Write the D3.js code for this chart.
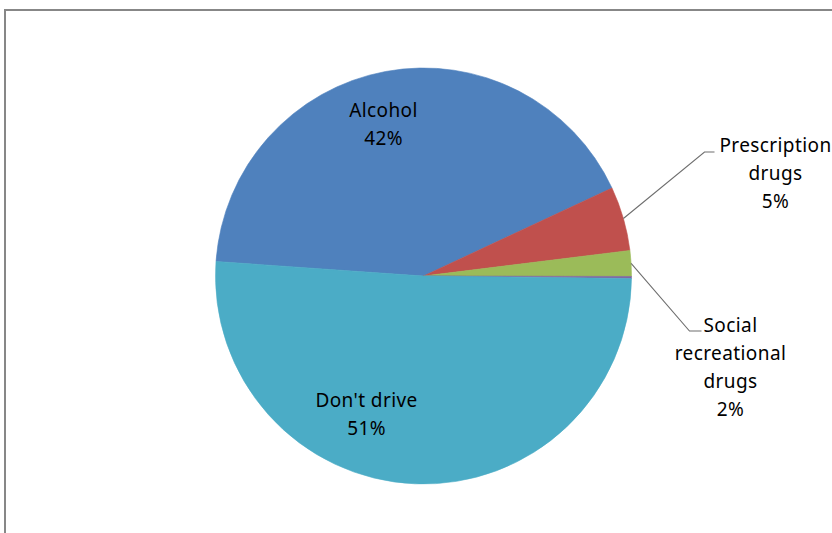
<!DOCTYPE html>
<html>
<head>
<meta charset="utf-8">
<script src="https://cdn.jsdelivr.net/npm/d3@7"></script>
<style>
  html, body { margin: 0; padding: 0; background: #fff; }
  svg { display: block; }
  text { font-family: "Noto Sans", sans-serif; font-size: 19px; fill: #000; letter-spacing: 0.4px; }
</style>
</head>
<body>
<svg id="chart" width="832" height="533"></svg>
<script>
// Survey answers: what affects driving
const categories = ["Alcohol", "Prescription drugs", "Social recreational drugs", "Other", "Don't drive"];
const shares = [42, 5, 2, 0.15, 51];
const labelLines = [
  ["Alcohol", "42%"],
  ["Prescription", "drugs", "5%"],
  ["Social", "recreational", "drugs", "2%"],
  [],
  ["Don't drive", "51%"]
];
const colors = ["#4F81BD", "#C0504D", "#9BBB59", "#8064A2", "#4BACC6"];

const W = 832, H = 533;
const cx = 423.5, cy = 276, R = 208;
const svg = d3.select("#chart");

// chart area frame (extends past the right and bottom edges)
svg.append("rect")
  .attr("x", 5).attr("y", 10)
  .attr("width", W + 20).attr("height", H + 20)
  .attr("fill", "#fff")
  .attr("stroke", "#878787")
  .attr("stroke-width", 2);

const rows = categories.map((c, i) => ({ name: c, value: shares[i], color: colors[i], lines: labelLines[i] }));

const startDeg = -86;
const pie = d3.pie()
  .sort(null)
  .value(d => d.value)
  .startAngle(startDeg * Math.PI / 180)
  .endAngle((startDeg + 360) * Math.PI / 180);

const arcs = pie(rows);
const arc = d3.arc().innerRadius(0).outerRadius(R);

const g = svg.append("g").attr("transform", `translate(${cx},${cy})`);
g.selectAll("path.slice")
  .data(arcs)
  .join("path")
  .attr("class", "slice")
  .attr("d", arc)
  .attr("fill", d => d.data.color)
  .attr("stroke", d => d.data.color)
  .attr("stroke-width", 0.6);

// label placement: inside labels sit near the centroid, outside ones use leader lines
const lineH = 28;
const labelLayout = {
  "Alcohol": { inside: true, dx: -40, dy: -152 },
  "Don't drive": { inside: true, dx: -57, dy: 138 },
  "Prescription drugs": { inside: false, elbow: [281, -124], end: [291, -124], tx: 352, ty: -131 },
  "Social recreational drugs": { inside: false, elbow: [266, 55], end: [278, 55], tx: 307, ty: 49 }
};

const mid = d => (d.startAngle + d.endAngle) / 2;

arcs.forEach(d => {
  const L = labelLayout[d.data.name];
  if (!L) return;
  let x, y;
  if (L.inside) {
    x = L.dx; y = L.dy - (d.data.lines.length - 1) * lineH / 2;
  } else {
    const a = mid(d);
    const p0 = [R * Math.sin(a), -R * Math.cos(a)];
    g.append("polyline")
      .attr("points", [p0, L.elbow, L.end].map(p => p.join(",")).join(" "))
      .attr("fill", "none")
      .attr("stroke", "#6e6e6e")
      .attr("stroke-width", 1.1);
    x = L.tx; y = L.ty;
  }
  const t = g.append("text")
    .attr("text-anchor", "middle")
    .attr("x", x).attr("y", y);
  d.data.lines.forEach((s, i) => {
    t.append("tspan")
      .attr("x", x)
      .attr("y", y + i * lineH)
      .attr("dominant-baseline", "central")
      .text(s);
  });
});
</script>
</body>
</html>
